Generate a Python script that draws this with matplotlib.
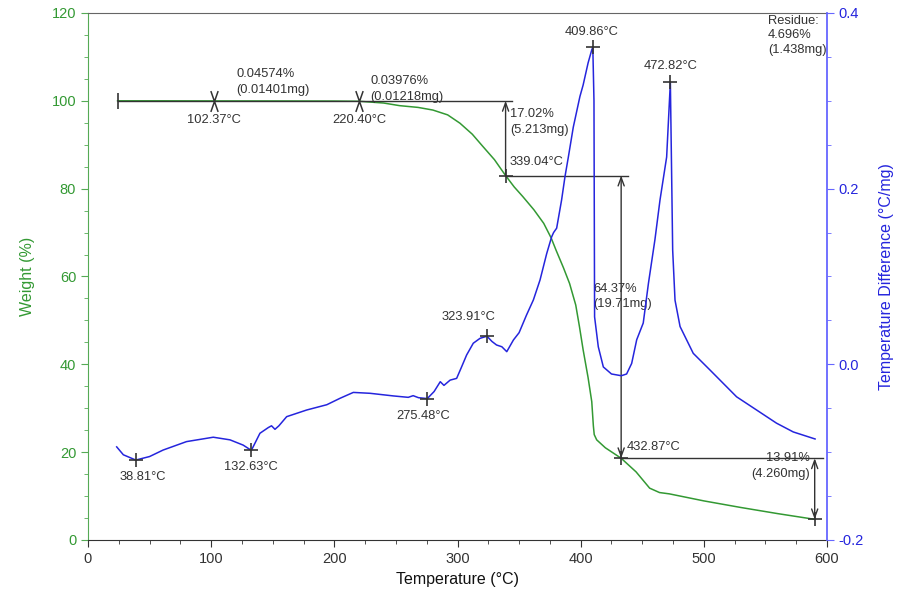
import matplotlib
matplotlib.use("Agg")
import matplotlib.pyplot as plt
from matplotlib.path import Path
from matplotlib.ticker import MultipleLocator, FormatStrFormatter

plt.rcParams["font.family"] = ["Liberation Sans", "DejaVu Sans"]
plt.rcParams["axes.unicode_minus"] = False

# tga weight curve
tga_temp = [24, 60, 100, 150, 200, 220, 240, 253, 268, 280, 292, 302, 312, 320, 330,
            339.04, 346, 353, 362, 370, 376, 380, 386, 391, 396, 399, 402, 406, 409,
            410.3, 411, 413, 420, 432.87, 445, 456, 464, 472, 500, 530, 560, 590]
tga_weight = [100, 100, 99.98, 99.97, 99.95, 99.9, 99.5, 98.9, 98.5, 97.9, 96.8, 94.9, 92.4, 89.8, 86.6,
              82.98, 80.4, 78.2, 75.2, 72.1, 68.8, 66.0, 62.0, 58.4, 53.5, 48.6, 43.3, 37.0, 31.5,
              26.0, 24.0, 22.8, 21.0, 18.61, 15.5, 11.8, 10.8, 10.5, 8.9, 7.4, 6.0, 4.70]

# dta curve
dta_temp = [23.3, 28.7, 38.81, 50, 61, 80, 101.7, 115.3, 126, 132.63, 139.6, 146.4, 149, 151.8,
            155, 161.3, 177.6, 193.9, 204.6, 215.4, 229, 248, 260, 264, 268.3, 275.48, 281, 286,
            289, 294, 299.3, 303, 307.4, 312.8, 318.3, 323.91, 328, 331.7, 336, 340, 345.4, 350,
            356, 361.6, 367, 372.4, 376.4, 378, 380.5, 384.5, 387.3, 390, 394, 399.4, 402, 406, 409,
            409.86, 410.8, 411.3, 414.3, 418.4, 425, 433, 437.3, 441.4, 445.5, 450.8, 455, 460.3,
            464.4, 469.8, 472.82, 474.7, 476.6, 480.7, 491.4, 505, 526.6, 542.8, 559, 572.6, 590.3]
dta_diff = [-0.094, -0.103, -0.109, -0.105, -0.0976, -0.088, -0.083, -0.086, -0.092, -0.098, -0.0785, -0.072, -0.070, -0.074,
            -0.070, -0.0596, -0.052, -0.046, -0.0387, -0.032, -0.033, -0.036, -0.0376, -0.0357, -0.038, -0.039, -0.031, -0.0198,
            -0.024, -0.018, -0.016, -0.004, 0.0106, 0.024, 0.0296, 0.032, 0.026, 0.022, 0.020, 0.0144, 0.0277, 0.036,
            0.056, 0.0733, 0.096, 0.126, 0.145, 0.150, 0.155, 0.187, 0.214, 0.236, 0.27, 0.305, 0.318, 0.343, 0.358,
            0.361, 0.30, 0.054, 0.020, -0.003, -0.011, -0.013, -0.011, 0.001, 0.028, 0.047, 0.092, 0.142,
            0.187, 0.236, 0.321, 0.13, 0.073, 0.043, 0.0125, -0.0065, -0.037, -0.052, -0.067, -0.077, -0.085]

# step analysis results
line_start = 24
small_steps = [102.37, 220.40]
small_pct = ["0.04574%", "0.03976%"]
small_mg = ["(0.01401mg)", "(0.01218mg)"]
step_temps = [339.04, 432.87, 590.0]
step_weights = [82.98, 18.61, 4.70]
step_pct = ["17.02%", "64.37%", "13.91%"]
step_mg = ["(5.213mg)", "(19.71mg)", "(4.260mg)"]
residue_text = "Residue:\n4.696%\n(1.438mg)"

# dta peak picks
peak_temps = [38.81, 132.63, 275.48, 323.91, 409.86, 472.82]
peak_vals = [-0.109, -0.098, -0.039, 0.032, 0.361, 0.321]

green = "#339933"
blue = "#2525dd"
ink = "#333333"
fs = 9.3
ls = 1.4

fig = plt.figure(figsize=(9.1, 5.96), dpi=100)
ax = fig.add_axes([0.0967, 0.094, 0.8121, 0.8842])
ax2 = ax.twinx()

ax.plot(tga_temp, tga_weight, color=green, lw=1.1, zorder=3)
ax2.plot(dta_temp, dta_diff, color=blue, lw=1.1)

ax.set_xlim(0, 600)
ax.set_ylim(0, 120)
ax2.set_ylim(-0.2, 0.4)
ax.xaxis.set_major_locator(MultipleLocator(100))
ax.xaxis.set_minor_locator(MultipleLocator(25))
ax.yaxis.set_major_locator(MultipleLocator(20))
ax.yaxis.set_minor_locator(MultipleLocator(5))
ax2.yaxis.set_major_locator(MultipleLocator(0.2))
ax2.yaxis.set_minor_locator(MultipleLocator(0.05))
ax2.yaxis.set_major_formatter(FormatStrFormatter("%.1f"))

ax.tick_params(axis="x", which="both", colors="#333333", labelsize=10.5, length=5)
ax.tick_params(axis="x", which="minor", length=3)
ax.tick_params(axis="y", which="both", colors="#55aa55", labelcolor=green, labelsize=10.5, length=5)
ax.tick_params(axis="y", which="minor", length=3)
ax2.tick_params(axis="y", which="both", colors="#6666ff", labelcolor=blue, labelsize=10.5, length=5)
ax2.tick_params(axis="y", which="minor", length=3)

ax.spines["left"].set_color("#55aa55")
ax.spines["right"].set_visible(False)
ax.spines["bottom"].set_color("#333333")
ax.spines["top"].set_color("#666666")
ax2.spines["left"].set_visible(False)
ax2.spines["bottom"].set_visible(False)
ax2.spines["top"].set_visible(False)
ax2.spines["right"].set_color("#6666ff")
ax2.spines["right"].set_linewidth(1.3)

ax.set_xlabel("Temperature (°C)", fontsize=11.5, color="#111111")
ax.set_ylabel("Weight (%)", fontsize=11.5, color=green)
ax2.set_ylabel("Temperature Difference (°C/mg)", fontsize=11.5, color=blue)
ax.xaxis.set_label_coords(0.5, -0.06)
ax.yaxis.set_label_coords(-0.072, 0.5)
ax2.yaxis.set_label_coords(1.07, 0.5)

# bow-tie marker used for the small steps
bowtie = Path([(-0.35, 1), (0.35, -1), (0.35, 1), (-0.35, -1)],
              [Path.MOVETO, Path.LINETO, Path.MOVETO, Path.LINETO])

# flat line at 100 % with small steps
ax.plot([line_start, step_temps[0] + 5], [100, 100], color=ink, lw=1, zorder=4)
ax.plot([line_start], [100], marker="|", ms=12, mew=1.2, color=ink, zorder=4)
ax.plot(small_steps, [100, 100], ls="none", marker=bowtie, ms=15, mew=1.1, color=ink, zorder=5)
ax.text(120.2, 101.2, small_pct[0] + "\n" + small_mg[0], fontsize=fs, color=ink,
        va="bottom", ha="left", linespacing=ls)
ax.text(229, 99.6, small_pct[1] + "\n" + small_mg[1], fontsize=fs, color=ink,
        va="bottom", ha="left", linespacing=ls)
for t in small_steps:
    ax.text(t, 97, f"{t:.2f}°C", fontsize=fs, color=ink, ha="center", va="top")

# first step
ax.annotate("", xy=(step_temps[0], 100), xytext=(step_temps[0], step_weights[0]),
            arrowprops=dict(arrowstyle="->,head_length=0.6,head_width=0.22", color=ink, lw=1,
                            shrinkA=0, shrinkB=0), zorder=4)
ax.text(342.6, 98.3, step_pct[0] + "\n" + step_mg[0], fontsize=fs, color=ink,
        va="top", ha="left", linespacing=ls)
ax.text(342.6, 84.6, f"{step_temps[0]:.2f}°C", fontsize=fs, color=ink, va="bottom", ha="left")
ax.plot([step_temps[0], step_temps[1] + 5.5], [step_weights[0]] * 2, color=ink, lw=1, zorder=4)

# second step
ax.annotate("", xy=(step_temps[1], step_weights[0]), xytext=(step_temps[1], step_weights[1]),
            arrowprops=dict(arrowstyle="<->,head_length=0.6,head_width=0.22", color=ink, lw=1,
                            shrinkA=0, shrinkB=0), zorder=4)
ax.text(410, 58.6, step_pct[1] + "\n" + step_mg[1], fontsize=fs, color=ink,
        va="top", ha="left", linespacing=ls)
ax.text(437.6, 19.9, f"{step_temps[1]:.2f}°C", fontsize=fs, color=ink, va="bottom", ha="left")
ax.plot([step_temps[1], step_temps[2] + 7], [step_weights[1]] * 2, color=ink, lw=1, zorder=4)

# third step
ax.annotate("", xy=(step_temps[2], step_weights[1]), xytext=(step_temps[2], step_weights[2]),
            arrowprops=dict(arrowstyle="<->,head_length=0.6,head_width=0.22", color=ink, lw=1,
                            shrinkA=0, shrinkB=0), zorder=4)
ax.text(586, 20.0, step_pct[2] + "\n" + step_mg[2], fontsize=fs, color=ink,
        va="top", ha="right", linespacing=ls)

ax.plot(step_temps, step_weights, ls="none", marker="+", ms=10, mew=1.2, color=ink, zorder=5)
ax.text(552, 119.6, residue_text, fontsize=fs, color=ink, va="top", ha="left", linespacing=1.3)

# dta peak picks
ax2.plot(peak_temps, peak_vals, ls="none", marker="+", ms=10, mew=1.2, color=ink, zorder=5)
peak_label_pos = [(44.2, -0.122, "top"), (132.2, -0.110, "top"), (272.3, -0.052, "top"),
                  (308.8, 0.047, "bottom"), (409.0, 0.372, "bottom"), (472.8, 0.333, "bottom")]
for t, (lx, ly, va) in zip(peak_temps, peak_label_pos):
    ax2.text(lx, ly, f"{t:.2f}°C", fontsize=fs, color=ink, ha="center", va=va)

fig.savefig("out.png", dpi=100)
